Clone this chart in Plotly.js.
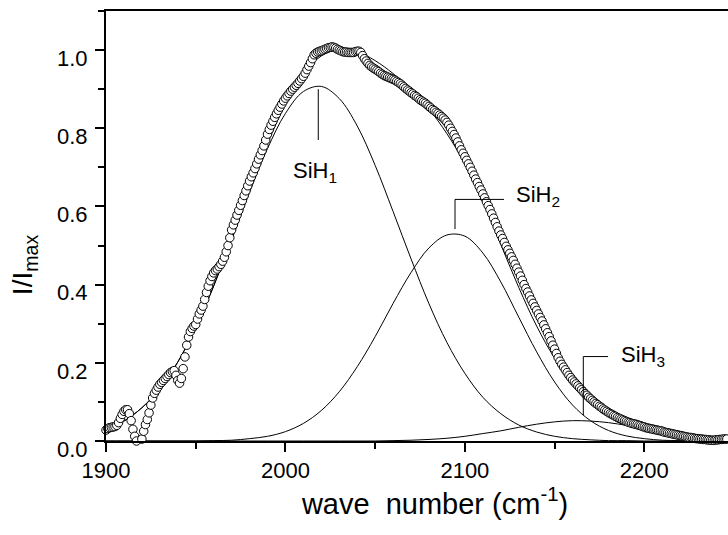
<!DOCTYPE html>
<html>
<head>
<meta charset="utf-8">
<script src="https://cdn.plot.ly/plotly-3.0.1.min.js"></script>
<style>
html, body { margin: 0; padding: 0; overflow: hidden; background: #fff; }
#plot { width: 764px; height: 535px; }
</style>
</head>
<body>
<div id="plot"></div>
<script>
// Measured spectrum (open circles)
const waveNumber = [
 1900,1901,1902,1903,1904,1905,1906,1907,1908,1909,
 1910,1911,1912,1913,1914,1915,1916,1917,1918,1919,
 1920,1921,1922,1923,1924,1925,1926,1927,1928,1929,
 1930,1931,1932,1933,1934,1935,1936,1937,1938,1939,
 1940,1941,1942,1943,1944,1945,1946,1947,1948,1949,
 1950,1951,1952,1953,1954,1955,1956,1957,1958,1959,
 1960,1961,1962,1963,1964,1965,1966,1967,1968,1969,
 1970,1971,1972,1973,1974,1975,1976,1977,1978,1979,
 1980,1981,1982,1983,1984,1985,1986,1987,1988,1989,
 1990,1991,1992,1993,1994,1995,1996,1997,1998,1999,
 2000,2001,2002,2003,2004,2005,2006,2007,2008,2009,
 2010,2011,2012,2013,2014,2015,2016,2017,2018,2019,
 2020,2021,2022,2023,2024,2025,2026,2027,2028,2029,
 2030,2031,2032,2033,2034,2035,2036,2037,2038,2039,
 2040,2041,2042,2043,2044,2045,2046,2047,2048,2049,
 2050,2051,2052,2053,2054,2055,2056,2057,2058,2059,
 2060,2061,2062,2063,2064,2065,2066,2067,2068,2069,
 2070,2071,2072,2073,2074,2075,2076,2077,2078,2079,
 2080,2081,2082,2083,2084,2085,2086,2087,2088,2089,
 2090,2091,2092,2093,2094,2095,2096,2097,2098,2099,
 2100,2101,2102,2103,2104,2105,2106,2107,2108,2109,
 2110,2111,2112,2113,2114,2115,2116,2117,2118,2119,
 2120,2121,2122,2123,2124,2125,2126,2127,2128,2129,
 2130,2131,2132,2133,2134,2135,2136,2137,2138,2139,
 2140,2141,2142,2143,2144,2145,2146,2147,2148,2149,
 2150,2151,2152,2153,2154,2155,2156,2157,2158,2159,
 2160,2161,2162,2163,2164,2165,2166,2167,2168,2169,
 2170,2171,2172,2173,2174,2175,2176,2177,2178,2179,
 2180,2181,2182,2183,2184,2185,2186,2187,2188,2189,
 2190,2191,2192,2193,2194,2195,2196,2197,2198,2199,
 2200,2201,2202,2203,2204,2205,2206,2207,2208,2209,
 2210,2211,2212,2213,2214,2215,2216,2217,2218,2219,
 2220,2221,2222,2223,2224,2225,2226,2227,2228,2229,
 2230,2231,2232,2233,2234,2235,2236,2237,2238,2239,
 2240,2241,2242,2243,2244,2245,2246
];
const intensity = [
 0.028,0.032,0.034,0.035,0.036,0.037,0.040,0.047,0.058,0.068,
 0.076,0.080,0.080,0.070,0.052,0.030,0.012,0.000,-0.008,-0.010,
 0.005,0.025,0.042,0.055,0.072,0.092,0.110,0.122,0.130,0.138,
 0.145,0.150,0.155,0.160,0.165,0.170,0.175,0.178,0.180,0.168,
 0.155,0.148,0.160,0.185,0.215,0.245,0.266,0.280,0.288,0.294,
 0.298,0.312,0.325,0.335,0.345,0.362,0.380,0.396,0.410,0.421,
 0.430,0.436,0.440,0.446,0.452,0.460,0.470,0.484,0.500,0.520,
 0.540,0.553,0.565,0.578,0.590,0.603,0.615,0.628,0.640,0.653,
 0.665,0.676,0.686,0.697,0.709,0.721,0.732,0.743,0.755,0.770,
 0.785,0.797,0.808,0.818,0.828,0.837,0.846,0.854,0.862,0.870,
 0.877,0.883,0.889,0.895,0.900,0.905,0.910,0.915,0.921,0.927,
 0.933,0.941,0.950,0.959,0.968,0.978,0.988,0.992,0.995,0.997,
 0.998,1.000,1.002,1.004,1.006,1.007,1.008,1.007,1.005,1.002,
 1.000,0.998,0.996,0.995,0.995,0.994,0.994,0.994,0.994,0.996,
 0.997,0.997,0.994,0.986,0.978,0.972,0.966,0.961,0.957,0.954,
 0.951,0.948,0.945,0.941,0.938,0.935,0.933,0.931,0.929,0.927,
 0.925,0.923,0.920,0.917,0.914,0.910,0.906,0.902,0.898,0.895,
 0.891,0.888,0.884,0.881,0.877,0.873,0.870,0.867,0.864,0.860,
 0.856,0.852,0.848,0.845,0.841,0.838,0.834,0.830,0.826,0.821,
 0.815,0.808,0.800,0.792,0.784,0.775,0.765,0.755,0.745,0.736,
 0.727,0.718,0.709,0.700,0.690,0.680,0.670,0.661,0.651,0.642,
 0.632,0.622,0.612,0.602,0.592,0.581,0.570,0.559,0.548,0.537,
 0.527,0.518,0.508,0.498,0.489,0.480,0.471,0.462,0.452,0.442,
 0.432,0.422,0.411,0.400,0.390,0.381,0.371,0.361,0.352,0.343,
 0.334,0.325,0.316,0.307,0.297,0.287,0.277,0.267,0.256,0.245,
 0.235,0.224,0.213,0.204,0.196,0.189,0.182,0.175,0.168,0.162,
 0.156,0.151,0.146,0.141,0.136,0.131,0.126,0.121,0.117,0.112,
 0.108,0.104,0.100,0.096,0.093,0.089,0.086,0.082,0.079,0.076,
 0.073,0.070,0.068,0.065,0.063,0.060,0.058,0.056,0.054,0.052,
 0.050,0.048,0.047,0.045,0.044,0.043,0.042,0.040,0.039,0.037,
 0.036,0.034,0.033,0.032,0.031,0.030,0.029,0.028,0.027,0.026,
 0.025,0.023,0.022,0.021,0.020,0.019,0.018,0.017,0.016,0.015,
 0.014,0.013,0.012,0.011,0.010,0.009,0.009,0.008,0.007,0.006,
 0.006,0.005,0.005,0.004,0.004,0.003,0.003,0.002,0.002,0.002,
 0.003,0.003,0.004,0.004,0.005,0.005,0.005
];

// Fitted components
const fitWave = [1900,1910,1920,1930,1940,1950,1960,1970,1980,1990,2000,2010,2020,2030,2040,2050,2060,2070,2080,2090,
                 2100,2110,2120,2130,2140,2150,2160,2170,2180,2190,2200,2210,2220,2230,2240,2246];
const fitSiH1 = [0.029,0.051,0.085,0.134,0.202,0.290,0.396,0.514,0.636,0.748,0.838,0.894,0.907,0.876,0.806,0.705,0.587,0.466,0.351,0.252,
                 0.173,0.112,0.070,0.041,0.023,0.012,0.006,0.003,0.001,0.001,0,0,0,0,0,0];
const fitSiH2 = [0,0,0,0,0,0,0.001,0.002,0.006,0.012,0.024,0.045,0.078,0.126,0.190,0.267,0.352,0.431,0.494,0.527,
                 0.524,0.481,0.407,0.317,0.228,0.151,0.092,0.052,0.027,0.013,0.006,0.002,0.001,0,0,0];
const fitSiH3 = [0,0,0,0,0,0,0,0,0,0,0,0,0,0,0,0,0.001,0.002,0.004,0.007,
                 0.012,0.019,0.026,0.035,0.043,0.049,0.052,0.051,0.047,0.040,0.032,0.023,0.016,0.010,0.006,0.004];
const fitTotal = [0.029,0.051,0.085,0.134,0.202,0.290,0.397,0.516,0.642,0.760,0.862,0.939,0.985,1.002,0.996,0.973,0.940,0.899,0.849,0.786,
                  0.709,0.612,0.503,0.393,0.294,0.212,0.150,0.106,0.075,0.054,0.038,0.025,0.017,0.010,0.006,0.004];

const componentLabels = ['SiH<sub>1</sub>', 'SiH<sub>2</sub>', 'SiH<sub>3</sub>'];
const xTitle = 'wave\u00a0\u00a0number (cm<sup>-1</sup>)';
const yTitle = 'I/I<sub>max</sub>';

const fontFam = 'Liberation Sans, Arial, Helvetica, sans-serif';
const thin = {color: '#000', width: 1, shape: 'spline', smoothing: 1};

const traces = [
  {x: fitWave, y: fitSiH1, mode: 'lines', line: thin, name: 'SiH1', hoverinfo: 'skip'},
  {x: fitWave, y: fitSiH2, mode: 'lines', line: thin, name: 'SiH2', hoverinfo: 'skip'},
  {x: fitWave, y: fitSiH3, mode: 'lines', line: thin, name: 'SiH3', hoverinfo: 'skip'},
  {x: fitWave, y: fitTotal, mode: 'lines', line: thin, name: 'fit', hoverinfo: 'skip'},
  {x: waveNumber, y: intensity, mode: 'markers', name: 'data', cliponaxis: false,
   marker: {symbol: 'circle', size: 8.5, color: '#fff', line: {color: '#000', width: 1}}}
];

const leader = (x0, y0, x1, y1) => ({type: 'line', xref: 'x', yref: 'y', x0, y0, x1, y1,
  line: {color: '#000', width: 1}});

const layout = {
  width: 764, height: 535,
  margin: {l: 106, r: 0, t: 11, b: 94},
  paper_bgcolor: '#fff', plot_bgcolor: '#fff',
  showlegend: false,
  font: {family: fontFam, color: '#000'},
  xaxis: {
    range: [1900, 2266.7], tick0: 1900, dtick: 100,
    ticks: 'outside', ticklen: 9, tickwidth: 2, tickcolor: '#000',
    showline: true, linewidth: 2, linecolor: '#000', mirror: true,
    showgrid: false, zeroline: false,
    minor: {dtick: 50, ticks: 'outside', ticklen: 6, tickwidth: 2, tickcolor: '#000', showgrid: false},
    tickfont: {size: 22, family: fontFam},
    title: {text: xTitle, font: {size: 29, family: fontFam}, standoff: 8}
  },
  yaxis: {
    range: [0, 1.1], tick0: 0, dtick: 0.2, tickformat: '.1f',
    ticks: 'outside', ticklen: 9, tickwidth: 2, tickcolor: '#000',
    showline: true, linewidth: 2, linecolor: '#000',
    showgrid: false, zeroline: false,
    minor: {dtick: 0.1, ticks: 'outside', ticklen: 6, tickwidth: 2, tickcolor: '#000', showgrid: false},
    tickfont: {size: 22, family: fontFam},
    ticklabelshift: 8, ticklabelstandoff: 3,
    title: {text: ''}
  },
  shapes: [
    leader(2018.3, 0.900, 2018.3, 0.770),
    leader(2094.5, 0.542, 2094.5, 0.618),
    leader(2094.5, 0.618, 2121.8, 0.618),
    leader(2166, 0.066, 2166, 0.216),
    leader(2166, 0.216, 2179.8, 0.216)
  ],
  annotations: [
    {x: -0.1246, y: 0.409, xref: 'paper', yref: 'paper', text: yTitle, textangle: -90, showarrow: false,
     xanchor: 'center', yanchor: 'middle', font: {size: 28, family: fontFam}},
    {x: 2016.5, y: 0.729, xref: 'x', yref: 'y', text: componentLabels[0], showarrow: false,
     xanchor: 'center', yanchor: 'top', font: {size: 22, family: fontFam}},
    {x: 2127.4, y: 0.627, xref: 'x', yref: 'y', text: componentLabels[1], showarrow: false,
     xanchor: 'left', yanchor: 'middle', font: {size: 22, family: fontFam}},
    {x: 2185.9, y: 0.217, xref: 'x', yref: 'y', text: componentLabels[2], showarrow: false,
     xanchor: 'left', yanchor: 'middle', font: {size: 22, family: fontFam}}
  ]
};

Plotly.newPlot('plot', traces, layout, {staticPlot: true, displayModeBar: false});
</script>
</body>
</html>
